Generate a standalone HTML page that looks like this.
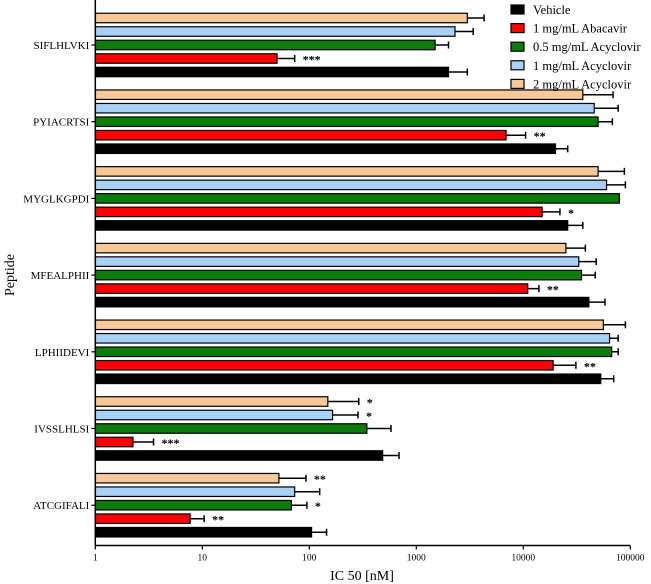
<!DOCTYPE html>
<html><head><meta charset="utf-8"><style>
body{margin:0;background:#fff;}
svg{display:block;font-family:"Liberation Serif",serif;}
</style></head><body>
<svg id="chart" width="651" height="584" viewBox="0 0 651 584" xmlns="http://www.w3.org/2000/svg"></svg>
<script>
const peptides = ["SIFLHLVKI","PYIACRTSI","MYGLKGPDI","MFEALPHII","LPHIIDEVI","IVSSLHLSI","ATCGIFALI"];
const seriesNames = ["Vehicle","1 mg/mL Abacavir","0.5 mg/mL Acyclovir","1 mg/mL Acyclovir","2 mg/mL Acyclovir"];
const vehicle   = [2000, 20000, 26000, 41000, 53000, 485, 105];
const abacavir  = [50, 6900, 15000, 11000, 19000, 2.25, 7.7];
const acy05     = [1500, 50000, 79000, 35000, 67000, 345, 68];
const acy1      = [2300, 46000, 60000, 33000, 64000, 165, 73];
const acy2      = [3000, 36000, 50000, 25000, 56000, 149, 52];
const vehicleErr  = [3000, 26000, 36000, 58000, 70000, 690, 145];
const abacavirErr = [73, 10500, 22000, 14000, 31000, 3.5, 10.4];
const acy05Err    = [2000, 68000, 79000, 47000, 77000, 580, 95];
const acy1Err     = [3400, 77000, 90000, 48000, 77000, 285, 125];
const acy2Err     = [4300, 69000, 88000, 38000, 90000, 290, 93];
const vehicleSig  = ["","","","","","",""];
const abacavirSig = ["***","**","*","**","**","***","**"];
const acy05Sig    = ["","","","","","","*"];
const acy1Sig     = ["","","","","","*",""];
const acy2Sig     = ["","","","","","*","**"];
const xTicks = [1,10,100,1000,10000,100000];
const xTickLabels = ["1","10","100","1000","10000","100000"];

const svg = document.getElementById('chart');
const NS = "http://www.w3.org/2000/svg";
function mk(tag, attrs, parent){ const e=document.createElementNS(NS,tag); for(const k in attrs) e.setAttribute(k,attrs[k]); (parent||svg).appendChild(e); return e; }
const x0=95.3, decade=107, axisY=545.5;
function xs(v){ return x0 + Math.log10(v)*decade; }
const groupTop=45, groupStep=76.7, barPitch=13.5, barH=9.5;
function yc(g){ return groupTop + g*groupStep; }

const colors = ["#000000","#ff0000","#0a7d0a","#a9d1f7","#f8c896"];
const vals = [vehicle, abacavir, acy05, acy1, acy2];
const errs = [vehicleErr, abacavirErr, acy05Err, acy1Err, acy2Err];
const sigs = [vehicleSig, abacavirSig, acy05Sig, acy1Sig, acy2Sig];
// vehicle at bottom, 2 mg/mL acyclovir at top
const offsetIdx = [2,1,0,-1,-2];

peptides.forEach((p,g)=>{
  for(let s=0;s<5;s++){
    const cy = yc(g) + offsetIdx[s]*barPitch;
    const xe = xs(vals[s][g]);
    const r = mk('rect',{x:x0,y:cy-barH/2,width:xe-x0,height:barH,fill:colors[s],stroke:'#000','stroke-width':1.2});
    
    
    const ee = xs(errs[s][g]);
    const el = mk('path',{d:`M${xe},${cy}H${ee}M${ee},${cy-3.5}V${cy+3.5}`,stroke:'#000','stroke-width':1.5,fill:'none'});
    
    
    if(sigs[s][g]){
      const t = mk('text',{x:ee+8,y:cy+5,'font-size':12,'font-weight':'bold',fill:'#000'});
      t.textContent = sigs[s][g];
      
      
    }
  }
  const tk = mk('line',{x1:x0-4,x2:x0,y1:yc(g),y2:yc(g),stroke:'#000','stroke-width':1.2});
  
  
  const lbl = mk('text',{x:x0-6,y:yc(g)+4,'font-size':11,'text-anchor':'end',fill:'#000'});
  lbl.textContent = p;
  
  
});

const ya = mk('line',{x1:x0,x2:x0,y1:0,y2:axisY,stroke:'#000','stroke-width':1.5});


const xa = mk('line',{x1:x0,x2:xs(100000),y1:axisY,y2:axisY,stroke:'#000','stroke-width':1.5});


xTicks.forEach((v,i)=>{
  const t = mk('line',{x1:xs(v),x2:xs(v),y1:axisY,y2:axisY+4,stroke:'#000','stroke-width':1.2});
  
  
  const l = mk('text',{x:xs(v),y:axisY+15,'font-size':9.5,'text-anchor':'middle',fill:'#000'});
  l.textContent = xTickLabels[i];
  
  
});
const xt = mk('text',{x:362,y:580,'font-size':14,'text-anchor':'middle',fill:'#000'});
xt.textContent = "IC 50 [nM]";


const yt = mk('text',{x:0,y:0,'font-size':14,'text-anchor':'middle',fill:'#000',transform:'translate(14,275) rotate(-90)'});
yt.textContent = "Peptide";



seriesNames.forEach((n,i)=>{
  const ly = 10 + i*18.6;
  const g = mk('g',{});
  
  
  mk('rect',{x:511,y:ly-5,width:13,height:9,fill:colors[i],stroke:'#000','stroke-width':1.2},g);
  const t = mk('text',{x:533,y:ly+4,'font-size':12.5,fill:'#000'},g);
  t.textContent = n;
});
</script>
</body></html>
